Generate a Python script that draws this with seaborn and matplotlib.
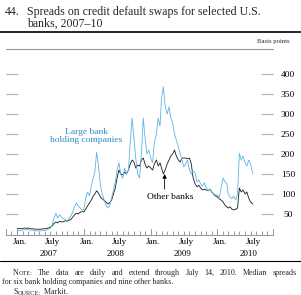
import matplotlib
matplotlib.use("Agg")
import matplotlib.pyplot as plt
import matplotlib.dates as mdates
import matplotlib.transforms as mtransforms
from matplotlib.lines import Line2D
import seaborn as sns
import pandas as pd

# ---------------- data (basis points), sampled on days 1, 11, 21 of each month ----------------
sample_days = [1, 11, 21]

large_2007 = [8, 9, 9, 10, 11, 10, 12, 10, 9, 9, 8, 8, 8, 8, 9, 9, 10, 12,
              14, 22, 40, 52, 40, 48, 42, 38, 36, 33, 38, 45, 55, 68, 78, 70, 66, 60]
large_2008 = [62, 90, 105, 95, 120, 140, 155, 205, 170, 120, 100, 85, 72, 65, 70, 90, 110, 130,
              160, 178, 150, 140, 165, 150, 160, 230, 290, 240, 190, 150, 140, 200, 290, 240, 200, 210]
large_2009 = [190, 178, 230, 250, 290, 270, 340, 368, 320, 300, 318, 290, 278, 250, 235, 218, 200, 185,
              168, 175, 185, 160, 150, 158, 152, 130, 135, 125, 120, 128, 115, 108, 112, 105, 100, 98]
large_2010 = [97, 92, 115, 140, 130, 127, 100, 92, 88, 95, 85, 100, 202, 185, 195, 178, 170, 185]

other_2007 = [13, 14, 13, 14, 15, 14, 15, 14, 13, 13, 12, 12, 12, 12, 13, 13, 14, 15,
              17, 20, 26, 30, 28, 32, 30, 31, 33, 32, 34, 36, 42, 48, 52, 50, 54, 56]
other_2008 = [55, 62, 70, 78, 85, 95, 100, 108, 102, 92, 88, 84, 80, 75, 78, 85, 100, 115,
              140, 160, 150, 148, 155, 150, 160, 175, 185, 180, 165, 172, 170, 185, 190, 175, 165, 170]
other_2009 = [165, 160, 175, 185, 170, 178, 165, 150, 160, 175, 185, 195, 200, 210, 195, 185, 180, 190,
              190, 190, 188, 190, 175, 140, 125, 118, 122, 115, 110, 112, 110, 108, 112, 105, 100, 95]
other_2010 = [93, 88, 85, 80, 72, 68, 65, 68, 62, 60, 62, 65, 115, 105, 110, 100, 105, 90]

last_dates = ["2010-07-01", "2010-07-14"]
large_last = [175, 150]
other_last = [80, 75]

yticks = [50, 100, 150, 200, 250, 300, 350, 400]
month_labels = ["Jan.", "July"]
years = [2007, 2008, 2009, 2010]

# ---------------- build table ----------------
dates = []
for yr in [2007, 2008, 2009]:
    for m in range(1, 13):
        for d in sample_days:
            dates.append(pd.Timestamp(yr, m, d))
for m in range(1, 7):
    for d in sample_days:
        dates.append(pd.Timestamp(2010, m, d))
dates += [pd.Timestamp(s) for s in last_dates]

large = large_2007 + large_2008 + large_2009 + large_2010 + large_last
other = other_2007 + other_2008 + other_2009 + other_2010 + other_last
df = pd.DataFrame({"date": dates, "large": large, "other": other})

# ---------------- style ----------------
sns.set_theme(style="white")
plt.rcParams["font.family"] = ["Liberation Serif", "DejaVu Serif"]

W, H = 301, 295
fig = plt.figure(figsize=(W / 100, H / 100), dpi=100)
fig.patch.set_facecolor("white")

def fx(px):
    return px / W

def fy(py):
    return 1 - py / H

ax_l, ax_r, ax_t, ax_b = 6, 273, 49, 235
ax = fig.add_axes([fx(ax_l), fy(ax_b), fx(ax_r - ax_l), (ax_b - ax_t) / H])
ax.set_facecolor("white")

line_blue = "#5db6e4"
text_blue = "#2b8cc4"
gray = "#9a9a9a"

sns.lineplot(data=df, x="date", y="other", ax=ax, color="#1a1a1a", lw=0.6, legend=False)
sns.lineplot(data=df, x="date", y="large", ax=ax, color=line_blue, lw=0.6, legend=False)

ax.set_xlim(pd.Timestamp("2006-11-01"), pd.Timestamp("2010-11-01"))
ax.set_ylim(-2.5, 462.5)
ax.set_xlabel("")
ax.set_ylabel("")

for s in ["left", "right"]:
    ax.spines[s].set_visible(False)
for s in ["top", "bottom"]:
    ax.spines[s].set_visible(True)
    ax.spines[s].set_color(gray)
    ax.spines[s].set_linewidth(0.8)

# y ticks: short stubs on both sides, labels on right, centred
ax.set_yticks(yticks)
ax.set_yticklabels([str(v) for v in yticks])
ax.tick_params(axis="y", which="major", direction="in", length=8.6, width=0.9,
               color="#b5b5b5", left=True, right=True, labelleft=False,
               labelright=True, pad=10.8, labelsize=6.8, labelcolor="black")
for t in ax.yaxis.get_major_ticks():
    t.label2.set_horizontalalignment("center")

# x ticks: labels mid-month, monthly minor ticks
ax.set_xticks([pd.Timestamp(y, m, 15) for y in years for m in (1, 7)])
ax.set_xticklabels([lab for y in years for lab in month_labels])
ax.xaxis.set_minor_locator(mdates.MonthLocator(bymonthday=1))
ax.tick_params(axis="x", which="major", length=0, pad=2.2, labelsize=6.5, labelcolor="black")
ax.tick_params(axis="x", which="minor", direction="in", length=2.8, width=0.7,
               color=gray, bottom=True)

# taller ticks at year boundaries and axis ends
tall = [pd.Timestamp("2006-11-01")] + [pd.Timestamp(y, 1, 1) for y in years] + [pd.Timestamp("2010-11-01")]
for d in tall:
    ax.axvline(d, ymin=0, ymax=6 / (ax_b - ax_t), color=gray, lw=0.7, clip_on=False)

# year labels
trans = mtransforms.blended_transform_factory(ax.transData, fig.transFigure)
for y in years:
    ax.text(pd.Timestamp(y, 6, 22), fy(253.5), str(y), transform=trans,
            ha="center", va="center", fontsize=6.5, color="black")

# series labels
ax.text(pd.Timestamp("2008-01-15"), 246, "Large bank\nholding companies",
        ha="center", va="center", fontsize=6.8, color=text_blue, linespacing=1.0)
ax.text(pd.Timestamp("2009-04-20"), 92, "Other banks", ha="center", va="center",
        fontsize=6.8, color="black")
ax.annotate("", xy=(pd.Timestamp("2009-03-18"), 150), xytext=(pd.Timestamp("2009-03-18"), 112),
            arrowprops=dict(arrowstyle="-|>", color="black", lw=0.6, mutation_scale=6,
                            shrinkA=0, shrinkB=0))

# ---------------- figure furniture ----------------
fs_title = 8.6
fig.text(fx(5), fy(15), "44.", fontsize=fs_title, ha="left", va="baseline")
fig.text(fx(27), fy(15), "Spreads on credit default swaps for selected U.S.",
         fontsize=fs_title, ha="left", va="baseline")
fig.text(fx(27), fy(27), "banks, 2007\u201310", fontsize=fs_title, ha="left", va="baseline")
fig.add_artist(Line2D([0, 1], [fy(32), fy(32)], color="black", lw=1.2, transform=fig.transFigure))
fig.text(fx(290), fy(41.5), "Basis points", fontsize=4.8, ha="right", va="center")

fig.add_artist(Line2D([0, 1], [fy(261), fy(261)], color="black", lw=0.8, transform=fig.transFigure))

renderer = fig.canvas.get_renderer()
fs_note = 5.8
sc = 0.78

# line 1: justified word by word
words1 = [[("N", fs_note), ("OTE:", fs_note * sc)]] + \
    [[(w, fs_note)] for w in "The data are daily and extend through July 14, 2010. Median spreads".split()]
made, widths = [], []
for word in words1:
    pieces, wsum = [], 0.0
    for txt, size in word:
        t = fig.text(0, fy(275), txt, fontsize=size, ha="left", va="baseline")
        w = t.get_window_extent(renderer).width
        pieces.append((t, w))
        wsum += w
    made.append(pieces)
    widths.append(wsum)
x0, x_end = 13, 297
gap = (x_end - x0 - sum(widths)) / (len(words1) - 1)
x = x0
for pieces, wsum in zip(made, widths):
    xx = x
    for t, w in pieces:
        t.set_x(fx(xx))
        xx += w
    x += wsum + gap

# line 2 and source
fig.text(fx(2), fy(284), "for six bank holding companies and nine other banks.",
         fontsize=fs_note, ha="left", va="baseline")
s1 = fig.text(fx(13), fy(294), "S", fontsize=fs_note, ha="left", va="baseline")
s2 = plt.annotate("OURCE:", xy=(1, 0), xycoords=s1, fontsize=fs_note * sc,
                  ha="left", va="bottom", annotation_clip=False)
plt.annotate("  Markit.", xy=(1, 0), xycoords=s2, fontsize=fs_note, ha="left", va="bottom",
             annotation_clip=False)

fig.savefig("out.png", dpi=100, facecolor="white")
